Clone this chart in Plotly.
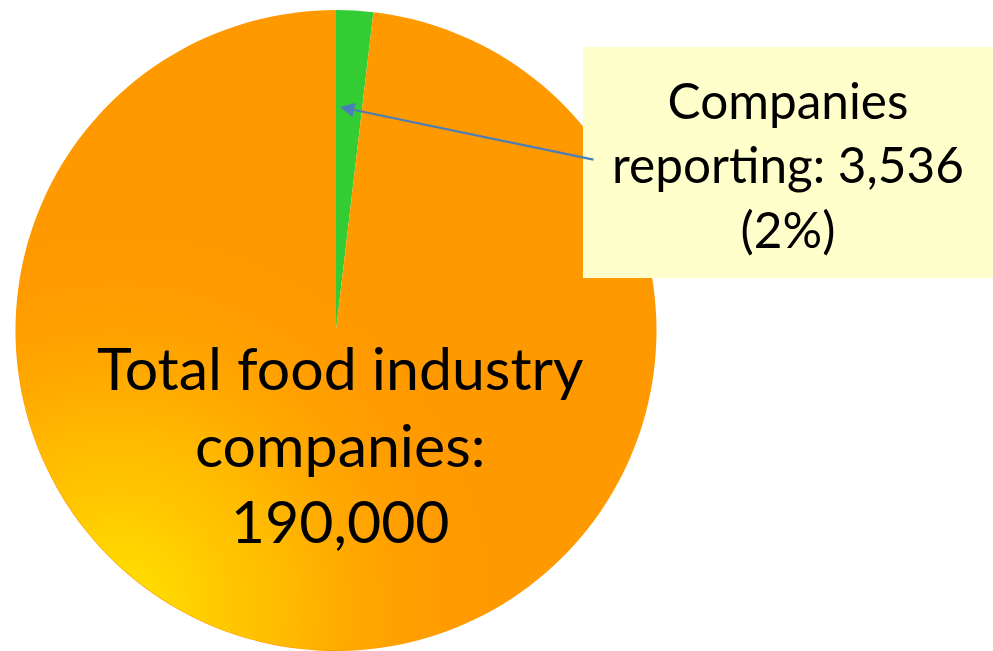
import base64
import plotly.graph_objects as go

# Data
labels = ["Companies reporting", "Other food industry companies"]
total_companies = 190000
reporting_companies = 3536
values = [reporting_companies, total_companies - reporting_companies]
slice_colors = ["#33CC33", "#FF9900"]

W, H = 993, 651
TOP = 10
PLOT_H = H - TOP


def px_x(px):
    return px / W


def px_y(py):
    return 1 - (py - TOP) / PLOT_H


fig = go.Figure()
fig.add_trace(go.Pie(
    labels=labels,
    values=values,
    sort=False,
    direction="clockwise",
    rotation=0,
    marker=dict(colors=slice_colors, line=dict(width=0)),
    textinfo="none",
    hoverinfo="label+value+percent",
    domain=dict(x=[0, 672 / W], y=[0, 1]),
    showlegend=False,
))

# soft yellow glow in the lower-left of the pie
R = PLOT_H / 2
svg = f"""<svg xmlns="http://www.w3.org/2000/svg" width="{PLOT_H}" height="{PLOT_H}" viewBox="0 0 {PLOT_H} {PLOT_H}">
<defs><radialGradient id="g" gradientUnits="userSpaceOnUse" cx="100" cy="600" r="390">
<stop offset="0" stop-color="#FFE600" stop-opacity="1"/>
<stop offset="0.45" stop-color="#FFC400" stop-opacity="0.75"/>
<stop offset="1" stop-color="#FF9900" stop-opacity="0"/>
</radialGradient></defs>
<circle cx="{R}" cy="{R}" r="{R - 0.5}" fill="url(#g)"/>
</svg>"""
svg_uri = "data:image/svg+xml;base64," + base64.b64encode(svg.encode()).decode()
fig.add_layout_image(dict(
    source=svg_uri, xref="paper", yref="paper",
    x=px_x(336 - R), y=1, sizex=PLOT_H / W, sizey=1,
    xanchor="left", yanchor="top", sizing="stretch", layer="above",
))

# callout box
fig.add_shape(type="rect", xref="paper", yref="paper",
              x0=px_x(583), x1=1, y0=px_y(278), y1=px_y(47),
              fillcolor="#FFFFCC", line=dict(width=0), layer="above")

fig.add_annotation(
    xref="paper", yref="paper", x=px_x(788), y=px_y(164),
    text=f"Companies<br>reporting: {reporting_companies:,}<br>({reporting_companies / total_companies:.0%})",
    showarrow=False, xanchor="center", yanchor="middle",
    font=dict(family="Lato", size=49.5, color="black"),
)

# arrow pointing at the reporting slice
fig.add_annotation(
    xref="paper", yref="paper", x=px_x(340), y=px_y(107),
    text="", showarrow=True, ax=255, ay=53,
    arrowhead=2, arrowsize=1.3, arrowwidth=2.2, arrowcolor="#4A7EBB",
)

fig.add_annotation(
    xref="paper", yref="paper", x=px_x(340), y=px_y(444),
    text=f"Total food industry<br>companies:<br>{total_companies:,}",
    showarrow=False, xanchor="center", yanchor="middle",
    font=dict(family="Lato", size=59, color="black"),
)

fig.update_layout(
    width=W, height=H,
    margin=dict(l=0, r=0, t=TOP, b=0, pad=0),
    paper_bgcolor="white", plot_bgcolor="white",
)

fig.write_html("out.html")
